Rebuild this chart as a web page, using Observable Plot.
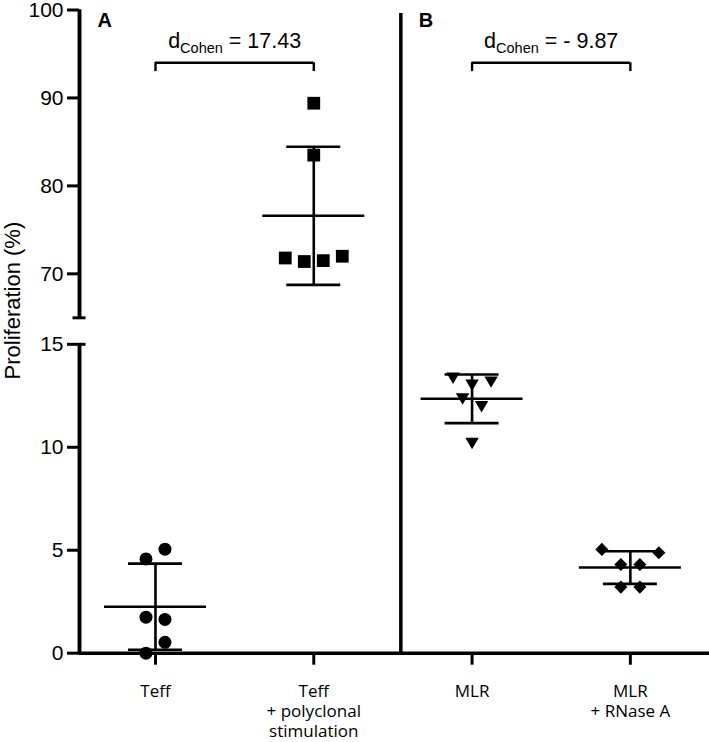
<!DOCTYPE html>
<html>
<head>
<meta charset="utf-8">
<script src="https://cdn.jsdelivr.net/npm/d3@7"></script>
<script src="https://cdn.jsdelivr.net/npm/@observablehq/plot@0.6"></script>
<style>
  html, body { margin: 0; padding: 0; background: #fff; }
  svg { display: block; }
</style>
</head>
<body>
<div id="chart"></div>
<script>
// ---------------- data ----------------
const categories = ["Teff", "Teff\n+ polyclonal\nstimulation", "MLR", "MLR\n+ RNase A"];
const teff      = [4.58, 5.05, 1.75, 1.64, 0.0, 0.53];
const teffPoly  = [89.4, 83.5, 71.8, 71.4, 71.5, 72.0];
const mlr       = [13.37, 13.03, 13.18, 12.36, 11.98, 10.20];
const mlrRnase  = [5.04, 4.88, 4.31, 4.31, 3.21, 3.21];
const series = [teff, teffPoly, mlr, mlrRnase];
const yTicksLow  = [0, 5, 10, 15];
const yTicksHigh = [70, 80, 90, 100];
const yBreak = [15, 65];
const panels = ["A", "B"];
const cohenD = ["17.43", "- 9.87"];
const cohenPairs = [[0, 1], [2, 3]];
const yLabel = "Proliferation (%)";

// ---------------- layout ----------------
const width = 709, height = 742;
const marginLeft = 79, marginRight = 0, marginTop = 9.5, marginBottom = 89.3;
const xDomain = [-0.48, 3.5];
const yDomain = [0, yBreak[0], yBreak[1], 100];
const yRange = [652.7, 343.8, 317.3, 9.5];
const dividerX = 1.55;
const bracketY = 94, bracketDrop = 1;

const xs = d3.scaleLinear(xDomain, [marginLeft, width - marginRight]);
const ys = d3.scaleLinear(yDomain, yRange);
const pxPerX = xs(1) - xs(0);

// symbols
const triangleDown = {
  draw(ctx, size) {
    const s = Math.sqrt(size);
    ctx.moveTo(-0.5 * s, -0.4 * s);
    ctx.lineTo(0.5 * s, -0.4 * s);
    ctx.lineTo(0, 0.45 * s);
    ctx.closePath();
  }
};
const symbols = ["circle", "square", triangleDown, "diamond2"];
const radii = [6.5, 7.2, 7.6, 5.9];

// Prism-like scatter arrangement: rows of nearby values spread symmetrically
const step = 19, rowGap = 12;
function arrange(values, ci) {
  const order = d3.range(values.length).sort((a, b) => values[b] - values[a]);
  const rows = [];
  let cur = null;
  for (const k of order) {
    if (cur && Math.abs(ys(values[k]) - ys(values[cur[0]])) < rowGap) cur.push(k);
    else rows.push(cur = [k]);
  }
  const placed = [], out = [];
  for (const row of rows.slice().reverse()) {
    const members = row.slice().sort((a, b) => a - b);
    const n = members.length;
    const base = members.map((k, j) => (j - (n - 1) / 2) * step);
    let off = base;
    for (let extra = 0; extra < 6; extra++) {
      off = base.map(o => o === 0 ? 0 : o + Math.sign(o) * extra * step);
      const collide = members.some((k, j) => placed.some(p =>
        Math.abs(p.px - off[j]) < 15 && Math.abs(p.py - ys(values[k])) < 12));
      if (!collide) break;
    }
    members.forEach((k, j) => {
      placed.push({px: off[j], py: ys(values[k])});
      out.push({cat: ci, v: values[k], x: ci + off[j] / pxPerX});
    });
  }
  return out;
}

const points = series.map((vals, i) => arrange(vals, i));
const stats = series.map((vals, i) => ({i, mean: d3.mean(vals), sd: d3.deviation(vals)}));
const meanHalf = 51 / pxPerX, capHalf = 27 / pxPerX, axisCap = 6.5 / pxPerX;

const effects = cohenD.map((d, k) => ({
  from: cohenPairs[k][0], to: cohenPairs[k][1],
  mid: (cohenPairs[k][0] + cohenPairs[k][1]) / 2,
  text: "dCohen = " + d
}));
const catLabels = categories.map((c, i) => ({i, c}));
const axisSegments = [[yDomain[0], yDomain[1]], [yDomain[2], yDomain[3]]];

const chart = Plot.plot({
  width, height, marginLeft, marginRight, marginTop, marginBottom,
  style: {fontFamily: "'Liberation Sans', Arial, Helvetica, sans-serif", color: "black", background: "white"},
  x: {type: "linear", domain: xDomain},
  y: {type: "linear", domain: yDomain, range: yRange},
  marks: [
    Plot.axisY([...yTicksLow, ...yTicksHigh], {tickSize: 12, tickPadding: 4, fontSize: 21, strokeWidth: 3, label: null}),
    Plot.text([yLabel], {frameAnchor: "left", rotate: -90, dx: -60, dy: -31, fontSize: 22, textAnchor: "middle", lineAnchor: "bottom"}),
    // x axis
    Plot.ruleY([0], {strokeWidth: 3.5}),
    Plot.axisX({ticks: categories.map((_, i) => i), tickFormat: () => "", tickSize: 12, strokeWidth: 3, label: null}),
    Plot.text(catLabels, {x: "i", y: 0, text: "c", dy: 29, lineAnchor: "top", lineHeight: 1.2, fontSize: 17,
      fontFamily: "'Open Sans', sans-serif", textAnchor: "middle"}),
    // divider
    Plot.ruleX([dividerX], {y1: 0, y2: 99.6, strokeWidth: 3.5}),
    // y axis (broken)
    Plot.ruleX([xDomain[0]], {y1: yDomain[0], y2: yDomain[1], strokeWidth: 3.5}),
    Plot.ruleX([xDomain[0]], {y1: yDomain[2], y2: yDomain[3], strokeWidth: 3.5}),
    Plot.ruleY([yBreak[1]], {x1: xDomain[0] - axisCap, x2: xDomain[0] + axisCap, strokeWidth: 3}),
    Plot.ruleY([yBreak[0]], {x1: xDomain[0], x2: xDomain[0] + axisCap, strokeWidth: 3}),
    // panel letters
    Plot.text(panels, {x: [xDomain[0], dividerX], y: [100, 100], dx: 18, dy: 16.5, fontSize: 20, fontWeight: "bold",
      textAnchor: "start", lineAnchor: "bottom"}),
    // error bars
    Plot.ruleX(stats, {x: "i", y1: d => d.mean - d.sd, y2: d => d.mean + d.sd, strokeWidth: 2.6}),
    Plot.ruleY(stats, {y: d => d.mean + d.sd, x1: d => d.i - capHalf, x2: d => d.i + capHalf, strokeWidth: 2.6}),
    Plot.ruleY(stats, {y: d => d.mean - d.sd, x1: d => d.i - capHalf, x2: d => d.i + capHalf, strokeWidth: 2.6}),
    Plot.ruleY(stats, {y: "mean", x1: d => d.i - meanHalf, x2: d => d.i + meanHalf, strokeWidth: 2.6}),
    // points
    ...points.map((pts, i) => Plot.dot(pts, {x: "x", y: "v", r: radii[i], symbol: symbols[i], fill: "black", stroke: "none"})),
    // effect brackets
    Plot.ruleY(effects, {y: bracketY, x1: "from", x2: "to", strokeWidth: 2.4}),
    Plot.ruleX(effects, {x: "from", y1: bracketY - bracketDrop, y2: bracketY, strokeWidth: 2.4}),
    Plot.ruleX(effects, {x: "to", y1: bracketY - bracketDrop, y2: bracketY, strokeWidth: 2.4}),
    Plot.text(effects, {x: "mid", y: bracketY, dy: -15, text: "text", fontSize: 21.5, textAnchor: "middle", lineAnchor: "bottom"})
  ]
});

// subscript "Cohen"
d3.select(chart).selectAll("text").filter(function() {
  return this.textContent.startsWith("dCohen");
}).each(function() {
  const rest = this.textContent.slice("dCohen".length);
  const t = d3.select(this);
  t.text(null);
  t.append("tspan").text("d");
  t.append("tspan").attr("font-size", 14.5).attr("dy", 5).text("Cohen");
  t.append("tspan").attr("dy", -5).text(rest);
});

// make sure the broken y-axis line is on top, using the plot's own scales
const sx = chart.scale("x"), sy = chart.scale("y");
const fx = v => (sx && sx.apply ? sx.apply(v) : xs(v));
const fy = v => (sy && sy.apply ? sy.apply(v) : ys(v));
const axisG = d3.select(chart).append("g").attr("stroke", "black").attr("stroke-width", 3.5);
axisSegments.forEach(([a, b]) => {
  axisG.append("line")
    .attr("x1", fx(xDomain[0]) + 0.5).attr("x2", fx(xDomain[0]) + 0.5)
    .attr("y1", fy(a)).attr("y2", fy(b));
});

document.getElementById("chart").appendChild(chart);
</script>
</body>
</html>
